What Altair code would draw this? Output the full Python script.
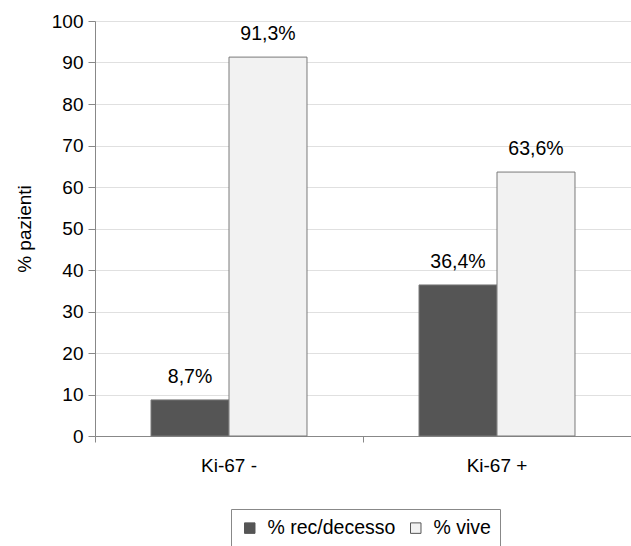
import altair as alt
import pandas as pd

# Share of patients by Ki-67 status
groups = ["Ki-67 -", "Ki-67 -", "Ki-67 +", "Ki-67 +"]
outcomes = ["% rec/decesso", "% vive", "% rec/decesso", "% vive"]
values = [8.7, 91.3, 36.4, 63.6]

df = pd.DataFrame({"gruppo": groups, "esito": outcomes, "valore": values})
df["etichetta"] = [f"{v:.1f}".replace(".", ",") + "%" for v in values]

FONT = "Liberation Sans"
order = ["% rec/decesso", "% vive"]

base = alt.Chart(df).encode(
    x=alt.X("gruppo:N", sort=["Ki-67 -", "Ki-67 +"],
            scale=alt.Scale(paddingInner=0, paddingOuter=0),
            axis=alt.Axis(title=None, labelAngle=0, bandPosition=0,
                          labelFontSize=19, labelColor="#000", labelPadding=14,
                          tickSize=6, tickColor="#888", domainColor="#888",
                          grid=False, labelFont=FONT)),
    xOffset=alt.XOffset("esito:N", sort=order,
                        scale=alt.Scale(paddingInner=0, paddingOuter=0.718)),
)

bars = base.mark_bar(stroke="#7a7a7a", strokeWidth=1).encode(
    y=alt.Y("valore:Q", scale=alt.Scale(domain=[0, 100]),
            axis=alt.Axis(title="% pazienti", values=list(range(0, 101, 10)),
                          titleFontSize=19, titleFontWeight="normal",
                          titleFont=FONT, titleColor="#000", titlePadding=17,
                          labelFontSize=19, labelColor="#000", labelFont=FONT,
                          labelPadding=5,
                          tickSize=7, tickColor="#888", domainColor="#888",
                          gridColor="#e0e0e0")),
    color=alt.Color("esito:N", sort=order,
                    scale=alt.Scale(domain=order, range=["#555555", "#f2f2f2"]),
                    legend=alt.Legend(title=None, orient="none", direction="horizontal",
                                      legendX=136, legendY=488,
                                      symbolType="square", symbolSize=110,
                                      symbolStrokeColor="#555", symbolStrokeWidth=1,
                                      labelFontSize=19.5, labelFont=FONT, labelColor="#000",
                                      labelOffset=8,
                                      strokeColor="#888", padding=9, columnPadding=10,
                                      symbolOpacity=1)),
)

labels = base.mark_text(baseline="alphabetic", dy=-17, fontSize=19.5, font=FONT,
                        color="#000").encode(
    y=alt.Y("valore:Q"),
    text="etichetta:N",
)

chart = (bars + labels).properties(
    width=536, height=415,
    padding={"left": 95, "top": 21, "right": 0, "bottom": 110},
    autosize=alt.AutoSizeParams(type="none"),
).configure_view(stroke=None).configure(background="white")

chart.save("out.html", embed_options={"renderer": "svg", "actions": False})
